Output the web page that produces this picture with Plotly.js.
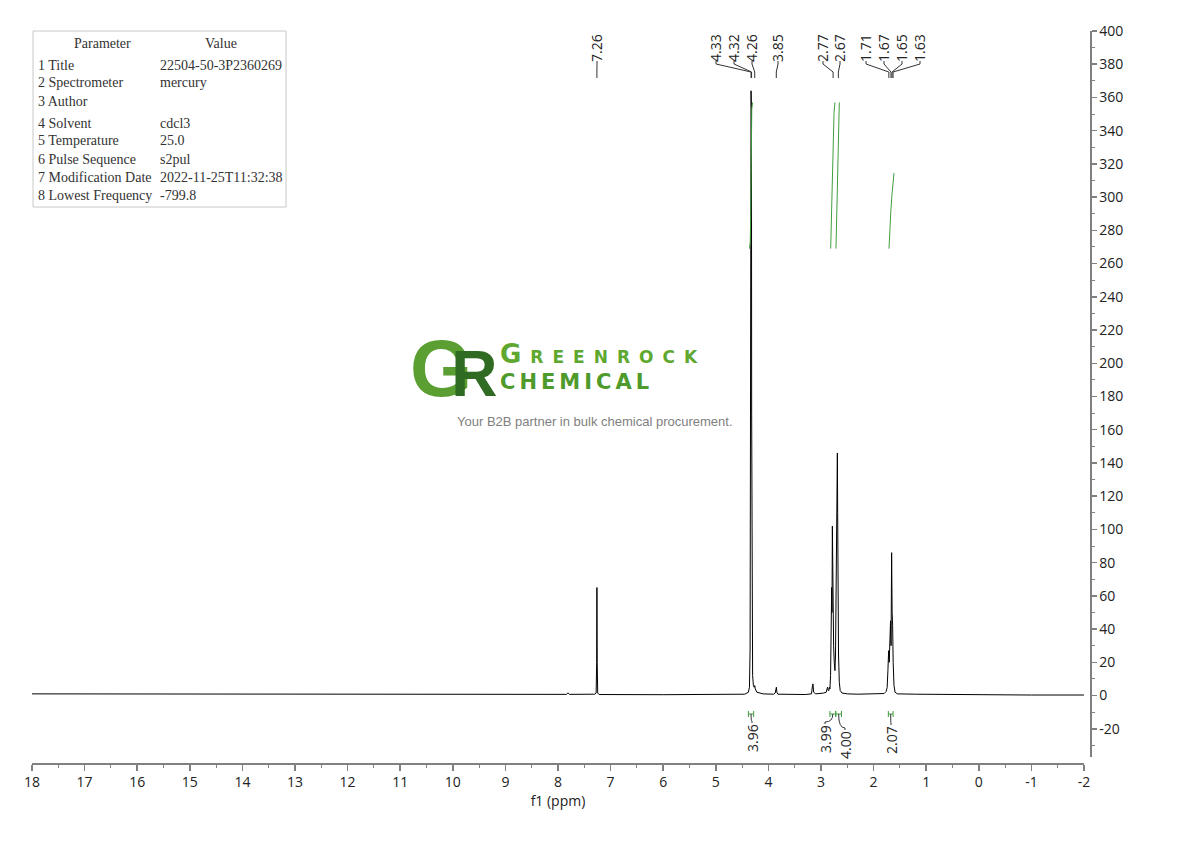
<!DOCTYPE html>
<html>
<head>
<meta charset="utf-8">
<script src="https://cdn.plot.ly/plotly-3.0.1.min.js"></script>
<style>html,body{margin:0;padding:0;background:#fff;}#chart{width:1190px;height:841px;}</style>
</head>
<body>
<div id="chart"></div>
<script>
// ---------------- DATA ----------------
// spectrum trace (ppm, intensity)
const ppm = [18.0, 16.0, 14.0, 12.0, 10.0, 8.0, 7.84, 7.81, 7.78, 7.30, 7.275, 7.265, 7.26, 7.255, 7.245, 7.22,
  6.0, 5.0, 4.45, 4.38, 4.36, 4.348, 4.338, 4.333, 4.33, 4.326, 4.322, 4.318, 4.31, 4.30, 4.285, 4.27, 4.26, 4.25, 4.22,
  4.1, 3.9, 3.87, 3.855, 3.848, 3.84, 3.82, 3.3, 3.18, 3.162, 3.152, 3.14, 3.10, 2.95, 2.90, 2.885, 2.875, 2.862, 2.85, 2.84,
  2.83, 2.818, 2.806, 2.797, 2.791, 2.784, 2.777, 2.769, 2.76, 2.748, 2.735, 2.724, 2.714, 2.704, 2.697, 2.689, 2.683, 2.676,
  2.667, 2.652, 2.635, 2.6, 2.5, 2.3, 2.0, 1.80, 1.76, 1.742, 1.728, 1.714, 1.703, 1.692, 1.678, 1.668, 1.657, 1.648, 1.638,
  1.628, 1.612, 1.592, 1.55, 1.2, 0.0, -1.0, -2.0];
const intensity = [1.0, 0.9, 0.9, 0.8, 0.8, 0.7, 0.7, 1.6, 0.7, 0.8, 1.5, 20, 65, 20, 1.5, 0.6,
  0.5, 0.5, 0.8, 2, 5, 28, 150, 300, 364, 310, 352, 170, 40, 12, 6, 5, 6, 4, 2,
  1, 0.8, 1.5, 4, 5, 2, 0.8, 0.6, 1.0, 6, 7, 2, 1, 1.5, 2, 4, 5, 3, 3, 5,
  4, 12, 40, 65, 50, 102, 70, 64, 30, 20, 15, 25, 60, 120, 95, 146, 110, 62,
  25, 8, 3, 1.5, 1, 0.8, 0.8, 1.2, 2.5, 5, 15, 27, 20, 35, 45, 30, 86, 50, 42,
  20, 6, 2, 1, 0.8, 0.4, 0.3, 0.3];

// integral curves
const intA_x = [4.36, 4.345, 4.335, 4.33, 4.325, 4.316, 4.30];
const intA_y = [269, 273, 292, 316, 338, 353, 357];
const intB_x = [2.816, 2.80, 2.785, 2.77, 2.752, 2.734];
const intB_y = [269, 292, 316, 336, 351, 357];
const intC_x = [2.715, 2.70, 2.688, 2.675, 2.664, 2.652];
const intC_y = [269, 292, 318, 338, 352, 357];
const intD_x = [1.707, 1.695, 1.672, 1.652, 1.632, 1.612];
const intD_y = [269, 280, 292, 301, 309, 314.5];

// peak picks
const peakPpm   = [7.26, 4.33, 4.32, 4.26, 3.85, 2.77, 2.67, 1.71, 1.67, 1.65, 1.63];
const peakText  = ["7.26", "4.33", "4.32", "4.26", "3.85", "2.77", "2.67", "1.71", "1.67", "1.65", "1.63"];

// integrations
const intFrom  = [4.38, 2.83, 2.72, 1.72];
const intTo    = [4.28, 2.72, 2.61, 1.63];
const intValue = ["3.96", "3.99", "4.00", "2.07"];

// parameter table
const paramNames  = ["1 Title", "2 Spectrometer", "3 Author", "4 Solvent", "5 Temperature", "6 Pulse Sequence", "7 Modification Date", "8 Lowest Frequency"];
const paramValues = ["22504-50-3P2360269", "mercury", "", "cdcl3", "25.0", "s2pul", "2022-11-25T11:32:38", "-799.8"];

// axis ticks
const xTickVals = [18, 17, 16, 15, 14, 13, 12, 11, 10, 9, 8, 7, 6, 5, 4, 3, 2, 1, 0, -1, -2];
const yTickVals = [400, 380, 360, 340, 320, 300, 280, 260, 240, 220, 200, 180, 160, 140, 120, 100, 80, 60, 40, 20, 0, -20];

// ---------------- LAYOUT HELPERS ----------------
const W = 1190, H = 841, ML = 32, MR = 100, MT = 31, MB = 78;
const PW = W - ML - MR, PH = H - MT - MB;
const XDOM = 1052 / PW;
const XR = [18, -2], YR = [-37, 400];
const px2paper = px => (px - ML) / PW;
const py2paper = py => (H - MB - py) / PH;
const px2ppm = px => XR[0] + (px - ML) / (PW * XDOM) * (XR[1] - XR[0]);

// label positions (pixels) for peak picks and integrals
const peakLabelPx = [597, 716, 734, 752, 778, 823, 840, 866, 884, 902, 920];
const intLabelPx  = [752, 825, 845, 891];
const intLabelPy  = [738, 739, 745, 740];

const TEXT = '#222';
const GREEN = '#3f9f3f';
const FONT = '"Open Sans", "Noto Sans", sans-serif';

const traces = [
  {x: ppm, y: intensity, type: 'scatter', mode: 'lines', line: {color: '#000', width: 1}, hoverinfo: 'skip'},
  {x: intA_x, y: intA_y, type: 'scatter', mode: 'lines', line: {color: GREEN, width: 1}, hoverinfo: 'skip'},
  {x: intB_x, y: intB_y, type: 'scatter', mode: 'lines', line: {color: GREEN, width: 1}, hoverinfo: 'skip'},
  {x: intC_x, y: intC_y, type: 'scatter', mode: 'lines', line: {color: GREEN, width: 1}, hoverinfo: 'skip'},
  {x: intD_x, y: intD_y, type: 'scatter', mode: 'lines', line: {color: GREEN, width: 1}, hoverinfo: 'skip'}
];

const annotations = [];
const shapes = [];

// peak labels and connectors
peakPpm.forEach((p, i) => {
  const lx = px2ppm(peakLabelPx[i]);
  annotations.push({x: lx, y: py2paper(48), xref: 'x', yref: 'paper', text: peakText[i], textangle: -90,
    showarrow: false, font: {family: FONT, size: 14, color: TEXT}, xanchor: 'center', yanchor: 'middle'});
  const path = `M ${lx},${py2paper(61)} L ${lx},${py2paper(64)} L ${p},${py2paper(72)} L ${p},${py2paper(78)}`;
  shapes.push({type: 'path', xref: 'x', yref: 'paper', path: path, line: {color: '#333', width: 1}});
});

// integration marks, connectors and labels
const markY = py2paper(714);
intFrom.forEach((a, i) => {
  const b = intTo[i];
  shapes.push({type: 'line', xref: 'x', yref: 'paper', x0: a, x1: b, y0: markY, y1: markY, line: {color: GREEN, width: 1}});
  shapes.push({type: 'line', xref: 'x', yref: 'paper', x0: a, x1: a, y0: py2paper(711), y1: py2paper(717), line: {color: GREEN, width: 1}});
  shapes.push({type: 'line', xref: 'x', yref: 'paper', x0: b, x1: b, y0: py2paper(711), y1: py2paper(717), line: {color: GREEN, width: 1}});
  const mid = (a + b) / 2;
  const lx = px2ppm(intLabelPx[i]);
  const topY = intLabelPy[i] - 15;
  const path = `M ${mid},${markY} Q ${mid},${py2paper(topY - 2)} ${lx},${py2paper(topY - 2)} L ${lx},${py2paper(topY)}`;
  shapes.push({type: 'path', xref: 'x', yref: 'paper', path: path, line: {color: '#333', width: 1}});
  annotations.push({x: lx, y: py2paper(intLabelPy[i]), xref: 'x', yref: 'paper', text: intValue[i], textangle: -90,
    showarrow: false, font: {family: FONT, size: 14, color: TEXT}, xanchor: 'center', yanchor: 'middle'});
});

// parameter table
const TFONT = '"Liberation Serif", "DejaVu Serif", serif';
const TSIZE = 14;
shapes.push({type: 'rect', xref: 'paper', yref: 'paper', x0: px2paper(33), x1: px2paper(286), y0: py2paper(207), y1: py2paper(31),
  line: {color: '#c8c8c8', width: 1}, fillcolor: 'rgba(255,255,255,0)'});
annotations.push({x: px2paper(102), y: py2paper(43), xref: 'paper', yref: 'paper', text: 'Parameter', showarrow: false,
  font: {family: TFONT, size: TSIZE, color: '#333'}, xanchor: 'center', yanchor: 'middle'});
annotations.push({x: px2paper(221), y: py2paper(43), xref: 'paper', yref: 'paper', text: 'Value', showarrow: false,
  font: {family: TFONT, size: TSIZE, color: '#333'}, xanchor: 'center', yanchor: 'middle'});
const rowY = [65, 83, 101, 123, 141, 159, 177, 195];
paramNames.forEach((n, i) => {
  annotations.push({x: px2paper(36), y: py2paper(rowY[i]), xref: 'paper', yref: 'paper', text: n, showarrow: false,
    font: {family: TFONT, size: TSIZE, color: '#333'}, xanchor: 'left', yanchor: 'middle'});
  if (paramValues[i]) annotations.push({x: px2paper(158), y: py2paper(rowY[i]), xref: 'paper', yref: 'paper', text: paramValues[i], showarrow: false,
    font: {family: TFONT, size: TSIZE, color: '#333'}, xanchor: 'left', yanchor: 'middle'});
});

// watermark logo
const LF = '"Liberation Sans", Arial, sans-serif';
annotations.push({x: px2paper(409), y: py2paper(369), xref: 'paper', yref: 'paper',
  text: '<b><span style="color:#5b9e31;letter-spacing:-21px">G</span><span style="color:#2f6b22;font-size:64px">R</span></b>',
  showarrow: false, borderpad: 0, font: {family: LF, size: 80, color: '#5b9e31'}, xanchor: 'left', yanchor: 'middle'});
annotations.push({x: px2paper(499), y: py2paper(366), xref: 'paper', yref: 'paper',
  text: '<span style="letter-spacing:9px;color:#5ea82f"><b><span style="font-size:26px">G</span><span style="font-size:17px">REENROCK</span></b></span><br>' +
        '<span style="letter-spacing:4px;color:#4e9a2a;font-size:21px"><b>CHEMICAL</b></span>',
  showarrow: false, align: 'left', borderpad: 0,
  font: {family: '"DejaVu Sans", sans-serif', size: 20, color: '#5ea82f'}, xanchor: 'left', yanchor: 'middle'});
annotations.push({x: px2paper(595), y: py2paper(421), xref: 'paper', yref: 'paper', text: 'Your B2B partner in bulk chemical procurement.', showarrow: false,
  font: {family: LF, size: 13, color: '#808080'}, xanchor: 'center', yanchor: 'middle'});

const layout = {
  width: W, height: H,
  margin: {l: ML, r: MR, t: MT, b: MB, pad: 0},
  paper_bgcolor: '#fff', plot_bgcolor: '#fff',
  showlegend: false, hovermode: false,
  font: {family: FONT, color: TEXT, size: 14},
  xaxis: {
    domain: [0, XDOM], range: XR, anchor: 'free', position: 0,
    showline: true, linecolor: '#808080', linewidth: 1.5, mirror: false,
    ticks: 'outside', ticklen: 6, tickcolor: '#808080', tickwidth: 1.5,
    tickvals: xTickVals, ticktext: xTickVals.map(String),
    minor: {dtick: 0.5, ticks: 'outside', ticklen: 3, tickcolor: '#808080', tickwidth: 1, showgrid: false},
    showgrid: false, zeroline: false,
    tickfont: {family: FONT, size: 14, color: TEXT},
    title: {text: 'f1 (ppm)', font: {family: FONT, size: 14, color: TEXT}, standoff: 0}
  },
  yaxis: {
    domain: [6 / PH, 1], range: YR, anchor: 'free', position: 1, side: 'right',
    showline: true, linecolor: '#808080', linewidth: 1.5,
    ticks: 'outside', ticklen: 5, tickcolor: '#808080', tickwidth: 1.5,
    tickvals: yTickVals, ticktext: yTickVals.map(String),
    minor: {dtick: 10, ticks: 'outside', ticklen: 3, tickcolor: '#808080', tickwidth: 1, showgrid: false},
    showgrid: false, zeroline: false,
    tickfont: {family: FONT, size: 14, color: TEXT}
  },
  annotations: annotations,
  shapes: shapes
};

Plotly.newPlot('chart', traces, layout, {displayModeBar: false, staticPlot: true});
</script>
</body>
</html>
